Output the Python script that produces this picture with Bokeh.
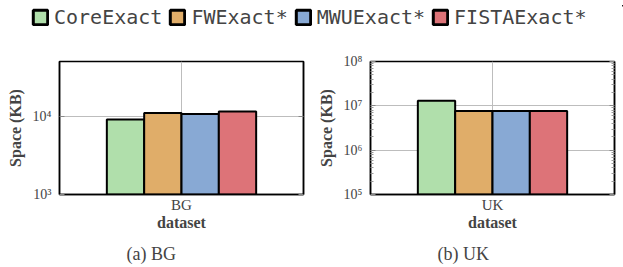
from bokeh.plotting import figure
from bokeh.models import (FactorRange, Range1d, LogAxis, Legend, LegendItem,
                          CustomJSTickFormatter, Title, ColumnDataSource, FixedTicker)
from bokeh.transform import dodge
from bokeh.layouts import column, row
from bokeh.embed import file_html
from bokeh.resources import INLINE

# ---- data ----
methods = ["CoreExact", "FWExact*", "MWUExact*", "FISTAExact*"]
colors = ["#b0dfab", "#e0ad69", "#88a9d4", "#dd7378"]
datasets = ["BG", "UK"]
bg_space = [9100, 11000, 10700, 11500]
uk_space = [1.3e7, 7.6e6, 7.6e6, 7.6e6]
captions = ["(a) BG", "(b) UK"]
y_limits = [(1e3, 5e4), (1e5, 1e8)]
bg_ticks = [1e3, 1e4]
uk_ticks = [1e5, 1e6, 1e7, 1e8]

SERIF = "Liberation Serif"
BAR_W = 0.153

sup_code = """
const sup = {"0":"\u2070","1":"\u00b9","2":"\u00b2","3":"\u00b3","4":"\u2074","5":"\u2075","6":"\u2076","7":"\u2077","8":"\u2078","9":"\u2079","-":"\u207b"};
const e = Math.round(Math.log10(tick));
return "10" + String(e).split("").map(c => sup[c]).join("");
"""


def minor_list(ticks):
    out = []
    for t in ticks[:-1]:
        out += [t * k for k in range(2, 10)]
    return out


def make_plot(ds, vals, ylim, ticks, caption, border_left, border_right, minor):
    p = figure(x_range=FactorRange(factors=[ds]), y_axis_type="log",
               y_range=Range1d(*ylim), frame_width=244, frame_height=133,
               min_border_left=border_left, min_border_right=border_right,
               min_border_top=25, min_border_bottom=73,
               output_backend="svg", toolbar_location=None, title=None)
    for i, m in enumerate(methods):
        src = ColumnDataSource(dict(x=[ds], top=[vals[i]]))
        p.vbar(x=dodge("x", (i - 1.5) * BAR_W, range=p.x_range), top="top",
               bottom=ylim[0], width=BAR_W, source=src,
               fill_color=colors[i], line_color="black", line_width=2)

    p.outline_line_color = "black"
    p.outline_line_width = 1.5
    p.xgrid.grid_line_color = "#bdbdbd"
    p.ygrid.grid_line_color = "#bdbdbd"

    ticker = FixedTicker(ticks=ticks, minor_ticks=minor_list(ticks) if minor else [])

    ya = p.yaxis[0]
    ya.ticker = ticker
    ya.formatter = CustomJSTickFormatter(code=sup_code)
    ya.major_label_text_font = SERIF
    ya.major_label_text_font_size = "14px"
    ya.major_label_standoff = 8
    ya.axis_label = "Space (KB)"
    ya.axis_label_text_font = SERIF
    ya.axis_label_text_font_size = "16px"
    ya.axis_label_text_font_style = "bold"
    ya.axis_label_standoff = 6
    ya.axis_line_color = "black"
    ya.axis_line_width = 1.5
    ya.major_tick_in = 5
    ya.major_tick_out = 0
    ya.major_tick_line_color = "#888888"
    ya.minor_tick_in = 3
    ya.minor_tick_out = 0
    ya.minor_tick_line_color = "#999999"

    ra = LogAxis(ticker=ticker, major_label_text_font_size="1px",
                 major_label_text_color=None, major_label_standoff=0,
                 axis_line_color="black", axis_line_width=1.5,
                 major_tick_in=5, major_tick_out=0,
                 major_tick_line_color="#888888",
                 minor_tick_in=3, minor_tick_out=0,
                 minor_tick_line_color="#999999")
    p.add_layout(ra, "right")

    xa = p.xaxis[0]
    xa.major_label_text_font = SERIF
    xa.major_label_text_font_size = "15px"
    xa.major_label_standoff = 2
    xa.axis_label = "dataset"
    xa.axis_label_text_font = SERIF
    xa.axis_label_text_font_size = "16px"
    xa.axis_label_text_font_style = "bold"
    xa.axis_label_standoff = -2
    xa.axis_line_color = "black"
    xa.axis_line_width = 1.5
    xa.major_tick_in = 0
    xa.major_tick_out = 0

    t = Title(text=caption, align="left", offset=67, standoff=17, text_font=SERIF,
              text_font_size="18px", text_font_style="normal")
    p.add_layout(t, "below")
    return p


p1 = make_plot(datasets[0], bg_space, y_limits[0], bg_ticks, captions[0], 59, 8, False)
p2 = make_plot(datasets[1], uk_space, y_limits[1], uk_ticks, captions[1], 59, 9, True)

# ---- legend strip ----
lg = figure(width=623, height=36, x_range=Range1d(0, 1), y_range=Range1d(0, 1),
            min_border_left=31, min_border_right=0, min_border_top=5,
            min_border_bottom=0, output_backend="svg", toolbar_location=None,
            title=None)
lg.axis.visible = False
lg.grid.visible = False
lg.outline_line_color = None
items = []
for i, m in enumerate(methods):
    # legend-only renderer, placed outside the visible range
    r = lg.vbar(x=[5], top=[6], bottom=5, width=0.1, fill_color=colors[i],
                line_color="black", line_width=3)
    items.append(LegendItem(label=m, renderers=[r]))
legend = Legend(items=items, orientation="horizontal", location="top_left",
                margin=0, padding=0, spacing=6, label_standoff=5,
                glyph_width=18, glyph_height=18,
                label_text_font="DejaVu Sans Mono", label_text_font_size="20px",
                border_line_color=None, background_fill_alpha=0)
lg.add_layout(legend, "center")

layout = column(lg, row(p1, p2, spacing=0), spacing=0)

with open("out.html", "w") as f:
    f.write(file_html(layout, INLINE))
